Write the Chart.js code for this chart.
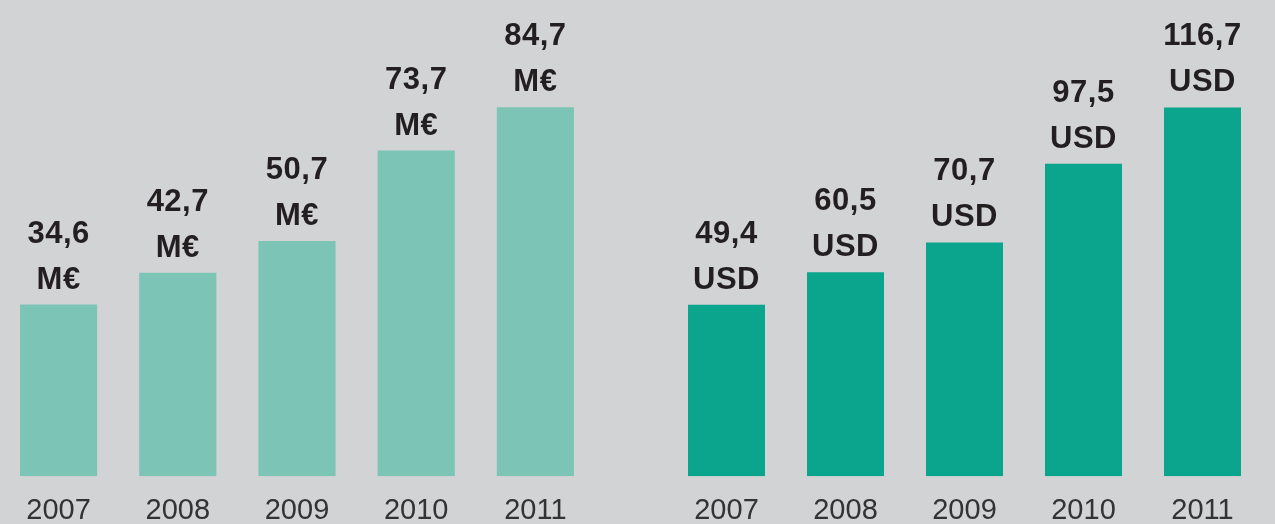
<!DOCTYPE html>
<html>
<head>
<meta charset="utf-8">
<script src="https://cdn.jsdelivr.net/npm/chart.js@4/dist/chart.umd.min.js"></script>
<style>
  html, body { margin: 0; padding: 0; background: #d2d3d5; }
  #wrap { position: relative; width: 1275px; height: 524px; background: #d2d3d5; overflow: hidden; }
  .box { position: absolute; top: 0; height: 545px; }
</style>
</head>
<body>
<div id="wrap">
  <div class="box" style="left:-1px; width:596px;"><canvas id="eurChart"></canvas></div>
  <div class="box" style="left:667px; width:595px;"><canvas id="usdChart"></canvas></div>
</div>
<script>
const years = ["2007", "2008", "2009", "2010", "2011"];
const eurValues = [34.6, 42.7, 50.7, 73.7, 84.7];
const usdValues = [49.4, 60.5, 70.7, 97.5, 116.7];
const eurUnit = "M€";
const usdUnit = "USD";

function fmt(v) {
    return v.toFixed(1).replace('.', ',');
}

// two-line value labels above each bar
const valueLabels = {
    id: 'valueLabels',
    afterDatasetsDraw(chart, args, opts) {
        const ctx = chart.ctx;
        const meta = chart.getDatasetMeta(0);
        const data = chart.data.datasets[0].data;
        ctx.save();
        ctx.font = 'bold 31px "Liberation Sans", Arial, sans-serif';
        ctx.letterSpacing = '0.5px';
        ctx.fillStyle = '#231f20';
        ctx.textAlign = 'center';
        ctx.textBaseline = 'alphabetic';
        meta.data.forEach(function (bar, i) {
            ctx.fillText(opts.unit, bar.x, bar.y - 16);
            ctx.fillText(fmt(data[i]), bar.x, bar.y - 62);
        });
        ctx.restore();
    }
};

function createBarChart(canvasId, values, unit, color, yMin, yMax) {
    const ctx = document.getElementById(canvasId).getContext('2d');
    new Chart(ctx, {
        type: 'bar',
        data: {
            labels: years,
            datasets: [{
                data: values,
                base: yMin,
                backgroundColor: color,
                borderWidth: 0,
                barPercentage: 0.647,
                categoryPercentage: 1
            }]
        },
        options: {
            responsive: true,
            maintainAspectRatio: false,
            animation: false,
            layout: { padding: { top: 47, bottom: 0, left: 0, right: 0 } },
            scales: {
                x: {
                    grid: { display: false, drawTicks: false },
                    border: { display: false },
                    ticks: {
                        color: '#333333',
                        padding: 17,
                        font: { size: 29, family: '"Liberation Sans", Arial, sans-serif' }
                    }
                },
                y: {
                    display: false,
                    min: yMin,
                    max: yMax
                }
            },
            plugins: {
                legend: { display: false },
                tooltip: { enabled: false },
                valueLabels: { unit: unit }
            }
        },
        plugins: [valueLabels]
    });
}

createBarChart("eurChart", eurValues, eurUnit, '#7cc4b5', -9, 100);
createBarChart("usdChart", usdValues, usdUnit, '#0aa58c', -9, 137.3);
</script>
</body>
</html>
